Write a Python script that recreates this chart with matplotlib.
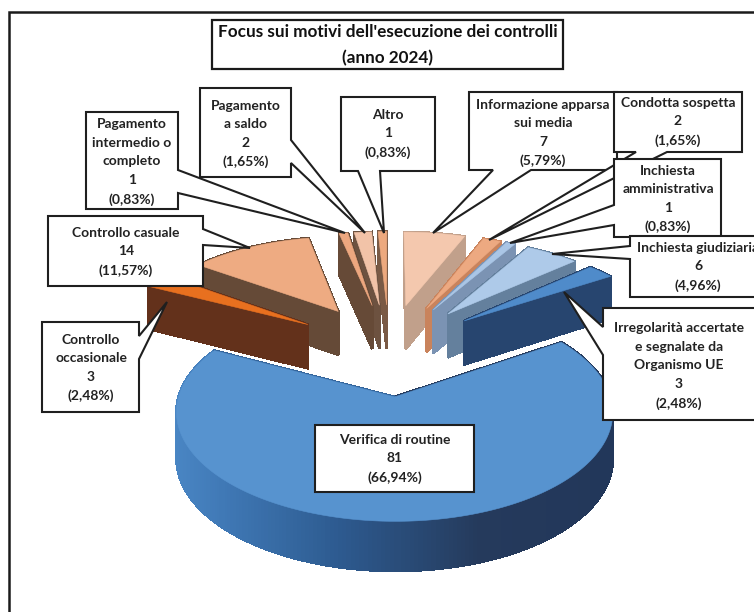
import numpy as np
import matplotlib
matplotlib.use('Agg')
import matplotlib.pyplot as plt
from matplotlib.colors import to_rgb

plt.rcParams['font.family'] = ['Lato', 'DejaVu Sans']

title = "Focus sui motivi dell'esecuzione dei controlli\n(anno 2024)"
categories = ['Informazione apparsa\nsui media', 'Condotta sospetta', 'Inchiesta\namministrativa',
              'Inchiesta giudiziaria', 'Irregolarità accertate\ne segnalate da\nOrganismo UE',
              'Verifica di routine', 'Controllo\noccasionale', 'Controllo casuale',
              'Pagamento\nintermedio o\ncompleto', 'Pagamento\na saldo', 'Altro']
values = [7, 2, 1, 6, 3, 81, 3, 14, 1, 2, 1]

top_colors = ['#f4c8ae', '#eda981', '#aac6e6', '#aecae9', '#4f8bca', '#5793cf',
              '#e8701f', '#eeab82', '#eda77f', '#f2c3a8', '#eda97e']
wall_colors = ['#c1a08b', '#c9835c', '#7b93b3', '#64809d', '#27456f', '#24385a',
               '#63311b', '#654a37', '#664a37', '#6d5240', '#7a5a45']

# callout layout: box x0,y0,x1,y1 / side of the pointer / base / tip / text centre
callouts = [
    ((469, 92, 617, 170), 'b', (493, 531), (433, 233), (543, 133)),
    ((614, 92, 742, 152), 'b', (636, 667), (489, 240), (678, 122)),
    ((614, 159, 721, 237), 'l', (205, 225), (510, 243), (668, 199)),
    ((630, 236, 770, 297), 'l', (246, 259), (552, 254), (698, 267)),
    ((603, 308, 770, 420), 'l', (327, 355), (564, 292), (679, 366)),
    ((315, 425, 474, 492), None, None, None, (394.5, 459)),
    ((42, 322, 139, 412), 'r', (336, 359), (167, 302), (91, 368)),
    ((48, 216, 203, 286), 'r', (229, 245), (250, 248), (126, 252)),
    ((86, 112, 178, 209), 'r', (170, 193), (345, 233), (132, 162)),
    ((200, 88, 291, 177), 'r', (140, 163), (365, 233), (245.5, 134)),
    ((341, 97, 435, 171), 'b', (358, 380), (384, 233), (388, 134)),
]

# projection of the pie plane on the picture
cx, cy = 389, 348
scale_x, scale_y = 202, 93.5
persp = 0.132
explode = 0.49
depth = 44.5


def project(x, y):
    p = 1 / (1 + persp * y)
    return cx + scale_x * x * p, cy - scale_y * y * p


def drop(y):
    return depth * np.sqrt(1 / (1 + persp * y))


def callout_shape(box, side, base, tip):
    x0, y0, x1, y1 = box
    if side == 'b':
        return [(x0, y0), (x1, y0), (x1, y1), (base[1], y1), tip, (base[0], y1), (x0, y1)]
    if side == 'l':
        return [(x0, y0), (x1, y0), (x1, y1), (x0, y1), (x0, base[1]), tip, (x0, base[0])]
    if side == 'r':
        return [(x0, y0), (x1, y0), (x1, base[0]), tip, (x1, base[1]), (x1, y1), (x0, y1)]
    return [(x0, y0), (x1, y0), (x1, y1), (x0, y1)]


def gradient_color(x):
    xs = [175, 227, 342, 477, 611]
    cols = np.array([to_rgb(c) for c in ['#4a86c4', '#3f78b5', '#2d5a8f', '#253a5c', '#22375a']])
    return tuple(np.interp(x, xs, cols[:, i]) for i in range(3))


fig = plt.figure(figsize=(7.54, 6.12), dpi=100)
ax = fig.add_axes([0, 0, 1, 1])
ax.set_xlim(0, 754)
ax.set_ylim(612, 0)
ax.axis('off')

# chart frame
ax.plot([9, 9, 754], [612, 12, 12], color='#1a1a1a', lw=1.8, solid_joinstyle='miter')

total = sum(values)
edges = np.cumsum([0] + values) / total * 2 * np.pi
mids = (edges[:-1] + edges[1:]) / 2

for i in np.argsort(-np.cos(mids)):
    ang = np.linspace(edges[i], edges[i + 1], max(4, int(values[i] * 3)))
    ox, oy = explode * np.sin(mids[i]), explode * np.cos(mids[i])
    gx = np.r_[ox, ox + np.sin(ang)]
    gy = np.r_[oy, oy + np.cos(ang)]
    sx, sy = project(gx, gy)
    low = sy + drop(gy)

    # side walls, farthest first
    n = len(gx)
    segs = [(j, (j + 1) % n) for j in range(n)]
    segs.sort(key=lambda s: -(gy[s[0]] + gy[s[1]]))
    for a, b in segs:
        col = wall_colors[i]
        if values[i] == max(values):
            col = gradient_color((sx[a] + sx[b]) / 2)
        ax.fill([sx[a], sx[b], sx[b], sx[a]], [sy[a], sy[b], low[b], low[a]],
                color=col, lw=1.2, antialiased=False)
    ax.fill(sx, sy, color=top_colors[i], lw=0.4)

# title box
ax.fill([212, 563, 563, 212], [20, 20, 69, 69], facecolor='white', edgecolor='#1a1a1a', lw=1.6)
ax.text(388, 45, title, ha='center', va='center', fontsize=12.3, fontweight='bold',
        color='#111111', linespacing=1.7)

# data callouts
for cat, val, (box, side, base, tip, centre) in zip(categories, values, callouts):
    shape = callout_shape(box, side, base, tip)
    ax.fill(*zip(*shape), facecolor='white', edgecolor='#1f1f1f', lw=1.5, joinstyle='miter')
    pct = f'{val / total * 100:.2f}'.replace('.', ',')
    ax.text(centre[0], centre[1], f'{cat}\n{val}\n({pct}%)', ha='center', va='center',
            fontsize=10, fontweight='bold', color='#222222', linespacing=1.65)

fig.savefig('out.png', dpi=100)
